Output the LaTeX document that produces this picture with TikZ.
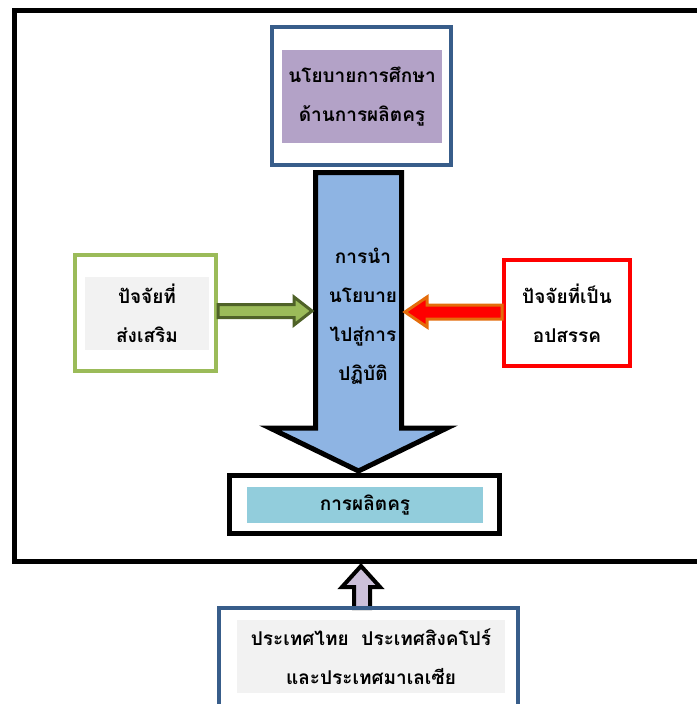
\documentclass[tikz,border=0pt]{standalone}
\usepackage{fontspec}
\newfontfamily\thaifont[Script=Thai]{Loma}
\usepackage{xcolor}
\usepackage{tikz}
\usetikzlibrary{calc}
\definecolor{frameblue}{HTML}{385D8A}
\definecolor{policypurple}{HTML}{B3A2C7}
\definecolor{supgreen}{HTML}{9BBB59}
\definecolor{supdark}{HTML}{4F6228}
\definecolor{panelgray}{HTML}{F2F2F2}
\definecolor{arrowblue}{HTML}{8EB4E3}
\definecolor{prodcyan}{HTML}{92CDDC}
\definecolor{obsorange}{HTML}{E46C0A}
\definecolor{countrylilac}{HTML}{CCC0DA}
\pgfdeclarelayer{bg}
\pgfsetlayers{bg,main}
\tikzset{
  thai/.style={font=\thaifont\bfseries\fontsize{19}{39}\selectfont, align=center, text=black},
  frame/.style={draw=#1, line width=4pt, inner sep=0pt},
  panel/.style={fill=#1, inner sep=0pt, thai},
  fatarrow/.style={line width=3pt, line join=miter}
}
\begin{document}
\begin{tikzpicture}[x=1pt,y=-1pt]
\useasboundingbox (0,0) rectangle (696,704);
\draw[line width=5pt] (710,10.8) -- (14.3,10.8) -- (14.3,561.8) -- (710,561.8);

\node[frame=frameblue, minimum width=179pt, minimum height=138pt] (policybox) at (361.5,96) {};
\node[panel=policypurple, minimum width=160pt, minimum height=93pt] (policy) at (362,96.5) {นโยบายการศึกษา\\ด้านการผลิตครู};

\node[frame=supgreen, minimum width=141pt, minimum height=116pt] (supbox) at (145.5,313) {};
\node[panel=panelgray, minimum width=124pt, minimum height=73pt] (sup) at (147,313.5) {ปัจจัยที่\\ส่งเสริม};

\node[frame=red, minimum width=126pt, minimum height=106pt, thai] (obs) at (567,313) {ปัจจัยที่เป็น\\อปสรรค};

\node[frame=black, line width=5pt, minimum width=270pt, minimum height=58pt] (prodbox) at (364.5,504.5) {};
\node[panel=prodcyan, minimum width=236pt, minimum height=36pt] (prod) at (365,505) {การผลิตครู};

\node[frame=frameblue, minimum width=299pt, minimum height=112pt] (countrybox) at (368.5,664) {};
\node[panel=panelgray, minimum width=268pt, minimum height=73pt] (country) at (371,656.5) {ประเทศไทย\ \ ประเทศสิงคโปร์\\และประเทศมาเลเซีย};

\draw[fatarrow, line width=5pt, fill=arrowblue] (315.5,172.5) -- (401.5,172.5) -- (401.5,428) -- (447,428) -- ($(prodbox.north)+(-6,-2)$) -- (270,428) -- (315.5,428) -- cycle;
\node[thai] (impl) at (363,316) {การนำ\\นโยบาย\\ไปสู่การ\\ปฏิบัติ};

\draw[fatarrow, draw=supdark, fill=supgreen] ($(supbox.east)+(0,-8.5)$) -- (294,304.5) -- (294,297) -- (312,311) -- (294,325) -- (294,317.5) -- ($(supbox.east)+(0,4.5)$) -- cycle;
\draw[fatarrow, draw=obsorange, fill=red] ($(obs.west)+(0,-8)$) -- (427,305) -- (427,297) -- (405,312) -- (427,327) -- (427,319) -- ($(obs.west)+(0,6)$) -- cycle;

\begin{pgfonlayer}{bg}
\draw[fatarrow, line width=4pt, fill=countrylilac] ($(countrybox.north)+(-14.5,2)$) -- (354,587) -- (342,587) -- (361,566) -- (380,587) -- (370,587) -- ($(countrybox.north)+(1.5,2)$) -- cycle;
\end{pgfonlayer}
\end{tikzpicture}
\end{document}
